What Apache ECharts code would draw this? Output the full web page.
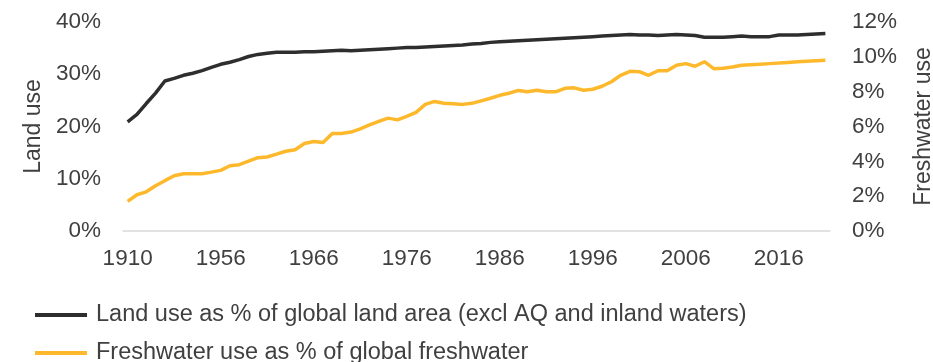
<!DOCTYPE html>
<html>
<head>
<meta charset="utf-8">
<style>
html,body{margin:0;padding:0;background:#fff;}
#chart{width:933px;height:362px;}
</style>
<script src="https://cdn.jsdelivr.net/npm/echarts@6/dist/echarts.min.js"></script>
</head>
<body>
<div id="chart"></div>
<script>
// Categories: 1910, 1920, 1930, 1940, 1950..2021
const categories = ['1910','1920','1930','1940','1950','1951','1952','1953','1954','1955'];
const annualYears = [];
for (let y = 1956; y <= 2021; y++) annualYears.push(String(y));
const allCategories = categories.concat(annualYears);

const landUse = [
  20.9, 22.3, 24.4, 26.4, 28.7, 29.2, 29.8, 30.2, 30.7, 31.3,
  31.9, 32.3, 32.8, 33.4, 33.8, 34.0, 34.2, 34.2, 34.2, 34.3,
  34.3, 34.4, 34.5, 34.6, 34.5, 34.6, 34.7, 34.8, 34.9, 35.0,
  35.1, 35.1, 35.2, 35.3, 35.4, 35.5, 35.6, 35.8, 35.9, 36.1,
  36.2, 36.3, 36.4, 36.5, 36.6, 36.7, 36.8, 36.9, 37.0, 37.1,
  37.2, 37.3, 37.4, 37.5, 37.6, 37.5, 37.5, 37.4, 37.5, 37.6,
  37.5, 37.4, 37.1, 37.1, 37.1, 37.2, 37.3, 37.2, 37.2, 37.2,
  37.5, 37.5, 37.5, 37.6, 37.7, 37.8
];

const freshwater = [
  1.70, 2.08, 2.25, 2.60, 2.89, 3.17, 3.29, 3.29, 3.29, 3.38,
  3.48, 3.75, 3.81, 4.01, 4.21, 4.25, 4.41, 4.58, 4.67, 5.02,
  5.14, 5.08, 5.60, 5.60, 5.68, 5.86, 6.09, 6.29, 6.48, 6.38,
  6.58, 6.81, 7.27, 7.44, 7.33, 7.30, 7.27, 7.33, 7.47, 7.62,
  7.79, 7.91, 8.07, 8.00, 8.08, 7.99, 7.99, 8.19, 8.22, 8.08,
  8.14, 8.31, 8.57, 8.94, 9.17, 9.15, 8.94, 9.20, 9.20, 9.52,
  9.61, 9.46, 9.72, 9.32, 9.35, 9.42, 9.52, 9.55, 9.58, 9.61,
  9.64, 9.68, 9.72, 9.75, 9.78, 9.81
];

const seriesNames = [
  'Land use as % of global land area (excl AQ and inland waters)',
  'Freshwater use as % of global freshwater'
];

const FONT = 'Liberation Sans, Arial, sans-serif';
const TXT = '#404040';
const BLACK = '#2E2E2E';
const YELLOW = '#FDB92B';
const FS = 22.5;

function legendFor(name, top) {
  return {
    orient: 'vertical',
    left: 30,
    top: top,
    itemWidth: 52,
    itemHeight: 4,
    icon: 'rect',
    textStyle: {fontSize: 23.5, color: TXT, fontFamily: FONT, padding: [0, 0, 0, 4]},
    data: [name]
  };
}

const chart = echarts.init(document.getElementById('chart'), null, {renderer: 'canvas'});
chart.setOption({
  animation: false,
  backgroundColor: '#ffffff',
  textStyle: {fontFamily: FONT},
  grid: {left: 123, right: 103, top: 22, bottom: 131, containLabel: false, outerBoundsMode: 'none'},
  legend: [legendFor(seriesNames[0], 298), legendFor(seriesNames[1], 336)],
  xAxis: {
    type: 'category',
    data: allCategories,
    boundaryGap: true,
    axisLine: {show: true, lineStyle: {color: '#D9D9D9', width: 1.5}},
    axisTick: {show: false},
    axisLabel: {interval: 9, fontSize: FS, color: TXT, fontFamily: FONT, margin: 16},
    splitLine: {show: false}
  },
  yAxis: [
    {
      type: 'value',
      min: 0, max: 40, interval: 10,
      name: 'Land use',
      nameLocation: 'middle',
      nameGap: 77,
      nameTextStyle: {fontSize: 23, color: TXT, fontFamily: FONT},
      axisLine: {show: false},
      axisTick: {show: false},
      splitLine: {show: false},
      axisLabel: {formatter: '{value}%', fontSize: FS, color: TXT, fontFamily: FONT, margin: 22}
    },
    {
      type: 'value',
      min: 0, max: 12, interval: 2,
      name: 'Freshwater use',
      nameLocation: 'middle',
      nameGap: 82,
      nameRotate: 90,
      nameTextStyle: {fontSize: 23, color: TXT, fontFamily: FONT},
      axisLine: {show: false},
      axisTick: {show: false},
      splitLine: {show: false},
      axisLabel: {formatter: '{value}%', fontSize: FS, color: TXT, fontFamily: FONT, margin: 22}
    }
  ],
  series: [
    {
      name: seriesNames[0],
      type: 'line',
      yAxisIndex: 0,
      data: landUse,
      symbol: 'none',
      lineStyle: {color: BLACK, width: 3.5},
      itemStyle: {color: BLACK}
    },
    {
      name: seriesNames[1],
      type: 'line',
      yAxisIndex: 1,
      data: freshwater,
      symbol: 'none',
      lineStyle: {color: YELLOW, width: 3.5},
      itemStyle: {color: YELLOW}
    }
  ]
});
</script>
</body>
</html>
